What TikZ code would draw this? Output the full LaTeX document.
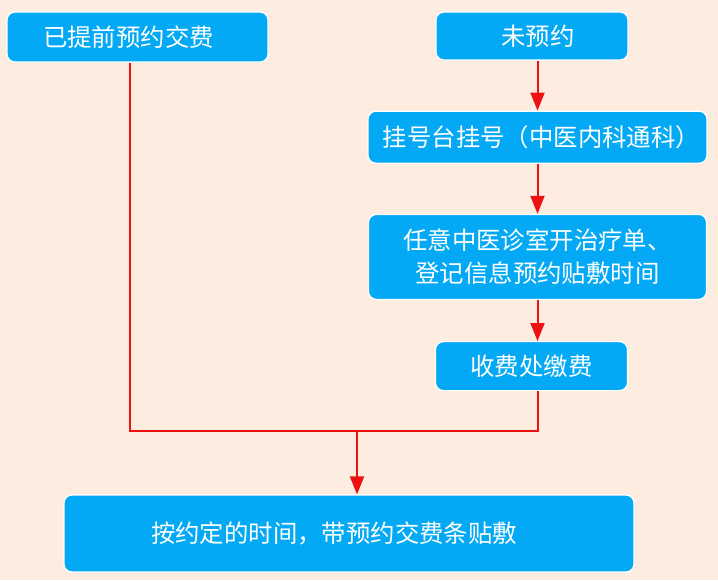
\documentclass[tikz,border=0pt]{standalone}
\usepackage{fontspec}
\setmainfont{Noto Sans CJK SC}
\usepackage{xcolor}
\usepackage{tikz}
\usetikzlibrary{positioning,arrows.meta,calc}
\definecolor{boxblue}{HTML}{03A9F4}
\definecolor{peach}{HTML}{FDEDE0}
\definecolor{linered}{HTML}{EE1111}
\tikzset{
  >={Triangle[length=9pt, width=7pt]},
  every node/.style={font=\fontsize{12.2pt}{16.5pt}\selectfont, text=white},
  stepbox/.style={draw=white, fill=boxblue, rounded corners=4pt, line width=0.6pt, align=center, inner sep=0pt},
  flow/.style={->, line width=1pt, draw=linered},
}

\begin{document}
\begin{tikzpicture}
  \fill[peach] (0,0) rectangle (359pt,-290pt);
  \useasboundingbox (0,0) rectangle (359pt,-290pt);

  \node[stepbox, minimum width=130.5pt, minimum height=25pt] (pre) at (68.75pt,-18.5pt) {已提前预约交费\hspace{9pt}};
  \node[stepbox, minimum width=96pt, minimum height=24pt] (wei) at (266pt,-18pt) {\hspace{6pt}未预约};
  \node[stepbox, minimum width=169.5pt, minimum height=26pt, below=25pt of wei, xshift=2.75pt] (gua) {\hspace{4pt}挂号台挂号（中医内科通科）};
  \node[stepbox, minimum width=169pt, minimum height=42.5pt, below=25pt of gua] (zhen) {任意中医诊室开治疗单、\\登记信息预约贴敷时间};
  \node[stepbox, minimum width=96pt, minimum height=24.5pt, below=20.5pt of zhen, xshift=-3pt] (jiao) {收费处缴费};
  \node[stepbox, minimum width=285pt, minimum height=38.5pt] (fin) at (174.5pt,-266.75pt) {按约定的时间，带预约交费条贴敷\hspace{15pt}};

  \draw[flow] (wei.south -| gua.north) -- (gua.north);
  \draw[flow] (gua.south -| zhen.north) -- (zhen.north);
  \draw[flow] (zhen.south) -- (zhen.south |- jiao.north);

  % two branches meet, then go down to the last step
  \coordinate (meet) at (178.5pt,-215.5pt);
  \draw[linered, line width=1pt] ([xshift=-4pt]pre.south) |- (meet) -| (jiao.south -| zhen.south);
  \draw[flow] (meet) -- (meet |- fin.north);
\end{tikzpicture}
\end{document}
